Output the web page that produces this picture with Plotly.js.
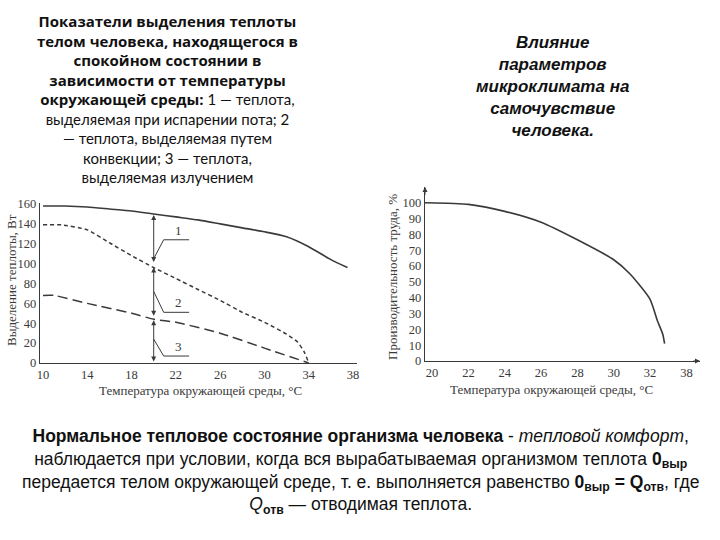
<!DOCTYPE html>
<html><head><meta charset="utf-8">
<script src="https://cdn.plot.ly/plotly-3.0.1.min.js"></script>
<style>html,body{margin:0;padding:0;background:#fff}#chart{width:720px;height:540px}</style>
</head><body><div id="chart"></div>
<script>
// Left chart: heat output of a resting person vs ambient temperature
const heatTemp   = [10, 12, 14, 16, 18, 20, 22, 24, 26, 28, 30, 32, 34, 36, 37.5];
const heatTotal  = [158, 158, 157, 155, 153, 150, 147, 144, 140, 136, 132, 127, 117, 104, 96];
const convTemp   = [10, 11.7, 14, 16, 18, 20, 22, 24, 26, 28, 30, 32, 33, 33.6, 34];
const convRad    = [139, 139, 134, 121, 108, 96, 85, 74, 63, 51, 41, 29, 21, 11, 0];
const radTemp    = [10, 11, 14, 18, 20, 22, 26, 30, 34];
const radiation  = [68, 68, 60, 50, 44, 41, 30, 15, 0];
const leftXTicks = [10, 14, 18, 22, 26, 30, 34, 38];
const leftYTicks = [0, 20, 40, 60, 80, 100, 120, 140, 160];
// Right chart: labour productivity vs ambient temperature
const prodTemp     = [19.6, 21.2, 22, 24, 26, 28, 30, 30.9, 32, 32.4, 32.7, 32.8];
const productivity = [100, 99.6, 99, 94.6, 87.7, 76.6, 64, 55, 39, 25.6, 16.9, 11];
const rightXTicks  = [20, 22, 24, 26, 28, 30, 32, 34];
const rightXLabels = ['20', '22', '24', '26', '28', '30', '32', '38'];
const rightYTicks  = [0, 10, 20, 30, 40, 50, 60, 70, 80, 90, 100];
// Segment markers at t = 20 °C and their labels
const segX = 20;
const segBounds = [[149, 100], [96, 46], [43, 0]];
const segLabels = ['1', '2', '3'];
const leaderStart = [105, 72, 24];
const leaderEnd   = [124, 51, 7];

const ink = '#3a3a3a';
const serif = 'Liberation Serif, Times New Roman, serif';

const traces = [
  {x: heatTemp, y: heatTotal, xaxis: 'x', yaxis: 'y', mode: 'lines', line: {color: ink, width: 1.6, shape: 'spline', smoothing: 0.6}, cliponaxis: false},
  {x: convTemp, y: convRad, xaxis: 'x', yaxis: 'y', mode: 'lines', line: {color: ink, width: 1.5, dash: '4px,3px', shape: 'spline', smoothing: 0.5}, cliponaxis: false},
  {x: radTemp, y: radiation, xaxis: 'x', yaxis: 'y', mode: 'lines', line: {color: ink, width: 1.5, dash: '10px,5px', shape: 'spline', smoothing: 0.5}, cliponaxis: false},
  {x: prodTemp, y: productivity, xaxis: 'x2', yaxis: 'y2', mode: 'lines', line: {color: ink, width: 1.6, shape: 'spline', smoothing: 0.6}, cliponaxis: false}
];

const ann = [];
const shapes = [];
segBounds.forEach(function (b, i) {
  ann.push({xref: 'x', yref: 'y', axref: 'x', ayref: 'y', x: segX, y: b[0], ax: segX, ay: b[1], text: '', showarrow: true, arrowside: 'end+start', arrowhead: 2, arrowsize: 1, arrowwidth: 1, arrowcolor: ink});
  shapes.push({type: 'path', xref: 'x', yref: 'y', path: 'M ' + segX + ' ' + leaderStart[i] + ' L ' + (segX + 0.9) + ' ' + leaderEnd[i] + ' L ' + (segX + 3.2) + ' ' + leaderEnd[i], line: {color: ink, width: 1}});
  ann.push({xref: 'x', yref: 'y', x: segX + 2.2, y: leaderEnd[i], xanchor: 'center', yanchor: 'bottom', text: segLabels[i], showarrow: false, font: {family: serif, size: 13, color: ink}});
});
// axis arrows on right chart
ann.push({xref: 'x2', yref: 'y2', axref: 'x2', ayref: 'y2', x: 19.61, y: 110, ax: 19.61, ay: 104, text: '', showarrow: true, arrowhead: 2, arrowsize: 1, arrowwidth: 1, arrowcolor: ink});
ann.push({xref: 'x2', yref: 'y2', axref: 'x2', ayref: 'y2', x: 34.75, y: 0, ax: 34.3, ay: 0, text: '', showarrow: true, arrowhead: 2, arrowsize: 1, arrowwidth: 1, arrowcolor: ink});
// axis titles
const titleFont = {family: serif, size: 13, color: ink};
ann.push({xref: 'paper', yref: 'paper', x: 200 / 720, y: 1 - 390 / 540, xanchor: 'center', yanchor: 'middle', text: 'Температура окружающей среды, °С', showarrow: false, font: titleFont});
ann.push({xref: 'paper', yref: 'paper', x: 11 / 720, y: 1 - 280 / 540, xanchor: 'center', yanchor: 'middle', text: 'Выделение теплоты, Вт', textangle: -90, showarrow: false, font: titleFont});
ann.push({xref: 'paper', yref: 'paper', x: 551 / 720, y: 1 - 389 / 540, xanchor: 'center', yanchor: 'middle', text: 'Температура окружающей среды, °С', showarrow: false, font: titleFont});
ann.push({xref: 'paper', yref: 'paper', x: 392 / 720, y: 1 - 277 / 540, xanchor: 'center', yanchor: 'middle', text: 'Производительность труда, %', textangle: -90, showarrow: false, font: titleFont});
// text blocks
const bo = function (s) { return '<span style="font-family:Open Sans;font-weight:bold">' + s + '</span>'; };
ann.push({xref: 'paper', yref: 'paper', x: 167 / 720, y: 1 - 9 / 540, yanchor: 'top', xanchor: 'center', align: 'center', showarrow: false,
  font: {family: 'Lato, Noto Sans, sans-serif', size: 15, color: '#111'},
  text: bo('Показатели выделения теплоты') + '<br>' + bo('телом человека, находящегося в') + '<br>' + bo('спокойном состоянии в') + '<br>' + bo('зависимости от температуры') + '<br>' + bo('окружающей среды:') + ' 1 — теплота,<br>выделяемая при испарении пота; 2<br>— теплота, выделяемая путем<br>конвекции; 3 — теплота,<br>выделяемая излучением'});
ann.push({xref: 'paper', yref: 'paper', x: 552 / 720, y: 1 - 31 / 540, yanchor: 'top', xanchor: 'center', align: 'center', showarrow: false,
  font: {family: 'Liberation Sans, Arial, sans-serif', size: 17, color: '#111', weight: 'bold', style: 'italic'},
  text: '<b><i>Влияние<br>параметров<br>микроклимата на<br>самочувствие<br>человека.</i></b>'});
ann.push({xref: 'paper', yref: 'paper', x: 360 / 720, y: 1 - 424 / 540, yanchor: 'top', xanchor: 'center', align: 'center', showarrow: false,
  font: {family: 'Liberation Sans Narrow, Arial Narrow, Liberation Sans, sans-serif', size: 17.5, color: '#111'},
  text: '<b>Нормальное тепловое состояние организма человека</b> - <i>тепловой комфорт</i>,<br>наблюдается при условии, когда вся вырабатываемая организмом теплота <b>0<sub>выр</sub></b><br>передается телом окружающей среде, т. е. выполняется равенство <b>0<sub>выр</sub> = Q<sub>отв</sub></b>, где<br><i>Q</i><b><sub>отв</sub></b> — отводимая теплота.'});

const axBase = {showgrid: false, zeroline: false, showline: true, linecolor: ink, linewidth: 1.2, ticks: '', tickfont: {family: serif, size: 12.5, color: ink}, fixedrange: true};

const layout = {
  width: 720, height: 540,
  margin: {l: 0, r: 0, t: 0, b: 0},
  paper_bgcolor: '#fff', plot_bgcolor: '#fff',
  showlegend: false,
  xaxis: Object.assign({}, axBase, {domain: [40 / 720, 357 / 720], range: [9.73, 38.36], tickvals: leftXTicks, anchor: 'y'}),
  yaxis: Object.assign({}, axBase, {domain: [1 - 363 / 540, 1 - 203 / 540], range: [0, 161], tickvals: leftYTicks, anchor: 'x'}),
  xaxis2: Object.assign({}, axBase, {domain: [425 / 720, 700 / 720], range: [19.61, 34.75], tickvals: rightXTicks, ticktext: rightXLabels, anchor: 'y2'}),
  yaxis2: Object.assign({}, axBase, {domain: [1 - 361 / 540, 1 - 187 / 540], range: [0, 110], tickvals: rightYTicks, anchor: 'x2'}),
  annotations: ann,
  shapes: shapes
};

Plotly.newPlot('chart', traces, layout, {displayModeBar: false, staticPlot: true});
</script>
</body></html>
